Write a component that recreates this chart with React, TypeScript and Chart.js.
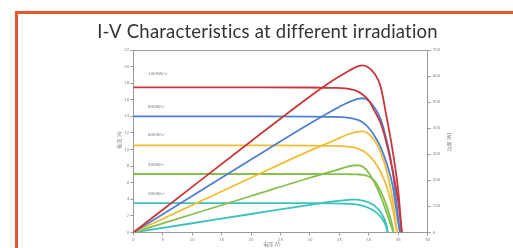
import { useEffect, useRef } from 'react';
import { Chart, registerables } from 'chart.js';
Chart.register(...registerables);

// ---- data ----
const chartTitle = 'I-V Characteristics at different irradiation';
const xTitle = '电压 (V)';
const yTitle = '电流 (A)';
const y1Title = '功率 (W)';
const irradianceLabels = ['1000W/㎡', '800W/㎡', '600W/㎡', '400W/㎡', '200W/㎡'];
const labelCurrents = [19.1, 15.1, 11.7, 8.1, 4.6];

const v1000 = [0, 10, 20, 30, 34, 36, 38, 39, 40, 41, 42, 43, 44, 45, 45.6];
const i1000 = [17.5, 17.5, 17.5, 17.48, 17.44, 17.38, 17.05, 16.6, 15.9, 14.6, 13.2, 10.8, 7.6, 3.7, 0];
const p1000 = [0, 175, 350, 522, 585, 612, 636, 641, 632, 608, 560, 445, 320, 160, 0];

const v800 = [0, 10, 20, 30, 34, 36, 38, 39, 40, 41, 42, 43, 44, 45, 45.3];
const i800 = [14.0, 14.0, 14.0, 13.98, 13.94, 13.88, 13.6, 13.25, 12.6, 11.6, 10.3, 8.4, 5.8, 1.2, 0];
const p800 = [0, 140, 280, 418, 470, 494, 512, 515, 505, 478, 435, 355, 245, 54, 0];

const v600 = [0, 10, 20, 30, 34, 36, 38, 39, 40, 41, 42, 43, 44, 44.8];
const i600 = [10.5, 10.5, 10.5, 10.48, 10.44, 10.38, 10.15, 9.85, 9.3, 8.5, 7.3, 5.6, 3.0, 0];
const p600 = [0, 105, 210, 314, 352, 372, 386, 388, 378, 352, 308, 240, 132, 0];

const v400 = [0, 10, 20, 30, 34, 36, 37, 38, 39, 40, 41, 42, 43, 44, 44.2];
const i400 = [7.05, 7.05, 7.05, 7.05, 7.04, 7.03, 7.02, 7.0, 6.95, 6.75, 6.2, 5.0, 3.3, 0.8, 0];
const p400 = [0, 70, 140, 210, 236, 250, 256, 258, 252, 228, 190, 140, 78, 12, 0];

const v200 = [0, 10, 20, 30, 34, 36, 37, 38, 39, 40, 41, 42, 43, 43.2];
const i200 = [3.55, 3.55, 3.55, 3.54, 3.52, 3.48, 3.44, 3.36, 3.2, 2.95, 2.55, 1.9, 0.6, 0];
const p200 = [0, 35.5, 71, 106, 119, 124, 126, 126, 122, 115, 102, 78, 28, 0];

const seriesColors = ['#c8373a', '#4f7fd1', '#f0bd35', '#86bf4c', '#3cc2bc'];
const voltages = [v1000, v800, v600, v400, v200];
const currents = [i1000, i800, i600, i400, i200];
const powers = [p1000, p800, p600, p400, p200];

const pts = (xs: number[], ys: number[]) => xs.map((x, k) => ({ x, y: ys[k] }));

const decorPlugin = {
  id: 'decor',
  beforeDraw(chart: any) {
    const { ctx } = chart;
    ctx.save();
    ctx.fillStyle = '#ffffff';
    ctx.fillRect(0, 0, chart.width, chart.height);
    // orange frame
    ctx.strokeStyle = '#e5582c';
    ctx.lineWidth = 3;
    ctx.strokeRect(16.5, 12.5, 700, 400);
    // title
    try { (ctx as any).letterSpacing = '0.2px'; } catch (e) { /* ignore */ }
    ctx.font = '400 18px Lato';
    const w = ctx.measureText(chartTitle).width;
    const size = 18 * 341 / w;
    ctx.font = `400 ${size}px Lato`;
    ctx.fillStyle = '#333333';
    ctx.textAlign = 'center';
    ctx.textBaseline = 'alphabetic';
    ctx.fillText(chartTitle, 267.5, 38);
    try { (ctx as any).letterSpacing = '0px'; } catch (e) { /* ignore */ }
    ctx.restore();
  },
  afterDraw(chart: any) {
    const { ctx, chartArea: a, scales } = chart;
    ctx.save();
    ctx.strokeStyle = '#9a9a9a';
    ctx.lineWidth = 1;
    ctx.beginPath();
    ctx.moveTo(a.left, a.top + 0.5);
    ctx.lineTo(a.right, a.top + 0.5);
    ctx.stroke();
    // axis titles
    ctx.fillStyle = '#808080';
    ctx.font = '5px "Noto Sans CJK SC"';
    ctx.textAlign = 'center';
    ctx.textBaseline = 'middle';
    ctx.fillText(xTitle, 272, 244.5);
    ctx.save();
    ctx.translate(119, 140);
    ctx.rotate(-Math.PI / 2);
    ctx.fillText(yTitle, 0, 0);
    ctx.restore();
    ctx.save();
    ctx.translate(449, 142);
    ctx.rotate(-Math.PI / 2);
    ctx.fillText(y1Title, 0, 0);
    ctx.restore();
    // irradiance labels
    ctx.fillStyle = '#7a7a7a';
    ctx.font = '4px "DejaVu Sans"';
    ctx.textAlign = 'left';
    irradianceLabels.forEach((t, k) => {
      ctx.fillText(t, scales.x.getPixelForValue(2.5), scales.y.getPixelForValue(labelCurrents[k]));
    });
    ctx.restore();
  },
};

export default function App() {
  const ref = useRef<HTMLCanvasElement>(null);
  useEffect(() => {
    document.body.style.margin = '0';
    const datasets: any[] = [];
    for (let k = 0; k < 5; k++) {
      datasets.push({
        data: pts(voltages[k], currents[k]),
        yAxisID: 'y',
        borderColor: seriesColors[k],
        borderWidth: 1.8,
        pointRadius: 0,
        cubicInterpolationMode: 'monotone',
        fill: false,
      });
      datasets.push({
        data: pts(voltages[k], powers[k]),
        yAxisID: 'y1',
        borderColor: seriesColors[k],
        borderWidth: 1.8,
        pointRadius: 0,
        cubicInterpolationMode: 'monotone',
        fill: false,
      });
    }
    const tickFont = { size: 4, family: 'DejaVu Sans' };
    const grid = { display: true, drawOnChartArea: false, drawTicks: true, tickLength: 3, color: '#9a9a9a' };
    const border = { display: true, color: '#9a9a9a', width: 1 };
    const chart = new Chart(ref.current!, {
      type: 'line',
      data: { datasets },
      plugins: [decorPlugin],
      options: {
        animation: false,
        responsive: false,
        maintainAspectRatio: false,
        layout: { padding: { left: 0, right: 0, top: 50, bottom: 0 } },
        plugins: { legend: { display: false }, tooltip: { enabled: false }, title: { display: false } },
        scales: {
          x: {
            type: 'linear',
            min: 0,
            max: 50,
            ticks: { stepSize: 5, font: tickFont, color: '#8a8a8a', padding: 2, maxRotation: 0 },
            grid,
            border,
            afterFit: (s: any) => { s.height = 15.5; },
          },
          y: {
            type: 'linear',
            position: 'left',
            min: 0,
            max: 22,
            ticks: { stepSize: 2, font: tickFont, color: '#8a8a8a', padding: 1 },
            grid,
            border,
            afterFit: (s: any) => { s.width = 133.3; },
          },
          y1: {
            type: 'linear',
            position: 'right',
            min: 0,
            max: 700,
            ticks: { stepSize: 100, font: tickFont, color: '#8a8a8a', padding: 2 },
            grid,
            border,
            afterFit: (s: any) => { s.width = 85.3; },
          },
        },
      } as any,
    });
    return () => chart.destroy();
  }, []);
  return (
    <div style={{ width: 513, height: 248 }}>
      <canvas ref={ref} width={513} height={248} style={{ display: 'block', width: 513, height: 248 }} />
    </div>
  );
}
